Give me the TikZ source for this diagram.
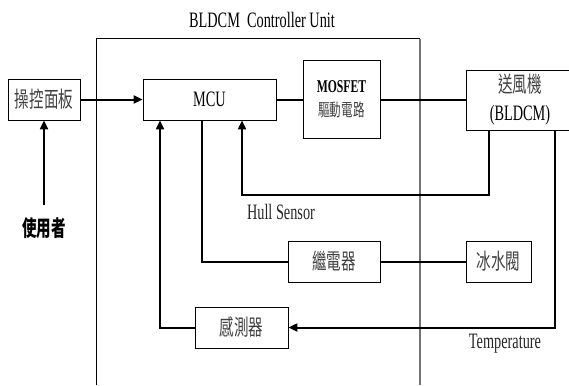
\documentclass[tikz,border=0pt]{standalone}
\usepackage{fontspec}
\setmainfont[FakeStretch=0.65]{Liberation Serif}
\newfontfamily\cjk[FakeStretch=0.66]{Noto Sans CJK TC}
\usetikzlibrary{arrows.meta}
\begin{document}
\begin{tikzpicture}[x=1pt,y=-1pt,
  box/.style={draw,line width=0.8pt,minimum width=#1,inner sep=0pt},
  thk/.style={line width=2pt},
  arr/.style={line width=2pt,-{Triangle[length=9pt,width=8pt]}},
  lbl/.style={inner sep=0pt,font=\fontsize{22}{24}\selectfont},
  ck/.style={font=\cjk\fontsize{22}{24}\selectfont,text=black!75}]
\useasboundingbox (0,0) rectangle (569,385);
% frame
\draw[line width=1pt] (96,385) -- (96,39) -- (420,39);
\draw[line width=1.2pt,black!55] (420,39) -- (420,385);
\node[lbl] (title) at (262,20) {BLDCM\ \ Controller Unit};
% boxes
\node[box=72pt,minimum height=41pt,ck] (panel) at (44,99.5) {操控面板};
\node[box=133pt,minimum height=41pt,font=\fontsize{22}{24}\selectfont] (mcu) at (209.5,99.5) {MCU};
\node[box=77pt,minimum height=78pt,align=center,font=\fontsize{18}{24}\selectfont] (mosfet) at (341.5,99)
  {{\bfseries MOSFET}\\{\cjk\fontsize{17.5}{24}\selectfont\color{black!75}驅動電路}};
\node[box=108pt,minimum height=60pt,align=center,font=\fontsize{22}{28}\selectfont] (fan) at (520,100)
  {{\cjk\color{black!75}送風機}\\(BLDCM)};
\node[box=92pt,minimum height=41pt,ck] (relay) at (334,261.5) {繼電器};
\node[box=65pt,minimum height=41pt,ck] (valve) at (498.5,261.5) {冰水閥};
\node[box=93pt,minimum height=41pt,ck] (sensor) at (241.5,327.5) {感測器};
\node[inner sep=0pt,font=\cjk\bfseries\fontsize{22}{24}\selectfont] (user) at (44,228) {使用者};
\node[lbl,text=black!85] (hull) at (281,212) {Hull Sensor};
\node[lbl,text=black!85] (temp) at (505,344) {Temperature};
% helper coordinates
\coordinate (h1) at (489,195);
\coordinate (h2) at (242,195);
\coordinate (rx) at (202,261.5);
\coordinate (tx) at (555,327.5);
\coordinate (sx) at (160,327.5);
% connectors
\draw[arr] (panel.east) -- (mcu.west);
\draw[arr] ([yshift=12pt]user.north) -- (panel.south);
\draw[thk] (mcu.east) -- (mcu.east -| mosfet.west);
\draw[thk] (mosfet.east |- fan.west) -- (fan.west);
\draw[arr] (fan.south -| h1) -- (h1) -- (h2) -- (mcu.south -| h2);
\draw[thk] (mcu.south -| rx) -- (rx) -- (relay.west);
\draw[thk] (relay.east) -- (valve.west);
\draw[arr] (fan.south -| tx) -- (tx) -- (sensor.east);
\draw[arr] (sensor.west) -- (sx) -- (mcu.south -| sx);
\end{tikzpicture}
\end{document}
